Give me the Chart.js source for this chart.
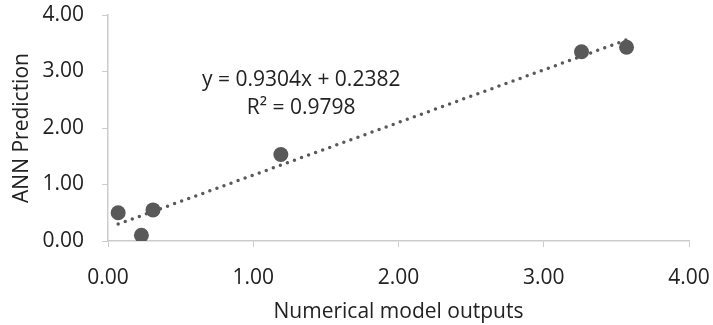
<!DOCTYPE html>
<html>
<head>
    <title>ANN vs Numerical model</title>
    <script src="https://cdn.jsdelivr.net/npm/chart.js"></script>
    <style>
        html, body { margin: 0; padding: 0; background: #fff; }
        #wrap { width: 713px; height: 325px; position: relative; }
    </style>
</head>
<body>
    <div id="wrap"><canvas id="chart"></canvas></div>

    <script>
        // values
        const numericalOut = [0.07, 0.23, 0.31, 1.19, 3.26, 3.57];
        const annPred = [0.50, 0.10, 0.55, 1.53, 3.35, 3.43];
        const trendX = [0.07, 3.57];
        const trendY = [0.30, 3.56];
        const axisTicks = [0, 1, 2, 3, 4];
        const eqLines = ['y = 0.9304x + 0.2382', 'R\u00b2 = 0.9798'];

        const grey = '#595959';
        const axisGrey = '#cccccc';
        const textCol = '#222222';
        const fontFam = "'Open Sans', 'Noto Sans', sans-serif";
        const fontSize = 21;

        const eqLabel = {
            id: 'eqLabel',
            afterDatasetsDraw(chart) {
                const ctx = chart.ctx;
                const xs = chart.scales.x, ys = chart.scales.y;
                ctx.save();
                ctx.font = fontSize + 'px ' + fontFam;
                ctx.fillStyle = textCol;
                ctx.textAlign = 'center';
                ctx.textBaseline = 'middle';
                ctx.fillText(eqLines[0], xs.getPixelForValue(1.33), ys.getPixelForValue(2.85));
                ctx.fillText(eqLines[1], xs.getPixelForValue(1.33), ys.getPixelForValue(2.35));
                ctx.restore();
            }
        };

        // fixed axis box size, no extra label overflow padding
        function fixBox(dim, size) {
            return s => {
                s[dim] = size;
                s.paddingTop = 0;
                s.paddingBottom = 0;
                s.paddingLeft = 0;
                s.paddingRight = 0;
            };
        }

        function axisCfg(title, fixSize, tickPad) {
            return {
                type: 'linear',
                min: axisTicks[0],
                max: axisTicks[axisTicks.length - 1],
                afterBuildTicks: s => { s.ticks = axisTicks.map(v => ({ value: v })); },
                afterFit: fixSize,
                grid: { display: true, drawOnChartArea: false, drawTicks: true, tickLength: 6, color: axisGrey, lineWidth: 1 },
                border: { display: true, color: axisGrey, width: 1.5 },
                ticks: {
                    padding: tickPad,
                    color: textCol,
                    font: { family: fontFam, size: fontSize },
                    callback: v => Number(v).toFixed(2)
                },
                title: {
                    display: true,
                    text: title,
                    color: textCol,
                    font: { family: fontFam, size: fontSize },
                    padding: { top: 9, bottom: 0 }
                }
            };
        }

        new Chart(document.getElementById('chart'), {
            type: 'scatter',
            data: {
                datasets: [
                    {
                        label: 'points',
                        data: numericalOut.map((x, i) => ({ x: x, y: annPred[i] })),
                        backgroundColor: grey,
                        borderWidth: 0,
                        pointRadius: 7.5,
                        order: 0
                    },
                    {
                        label: 'trend',
                        type: 'line',
                        data: trendX.map((x, i) => ({ x: x, y: trendY[i] })),
                        borderColor: grey,
                        borderWidth: 3.5,
                        borderDash: [0, 7.5],
                        borderCapStyle: 'round',
                        pointRadius: 0,
                        fill: false,
                        order: 1
                    }
                ]
            },
            options: {
                responsive: true,
                maintainAspectRatio: false,
                animation: false,
                layout: { padding: { left: 0, right: 24, top: 15, bottom: 0 } },
                plugins: { legend: { display: false }, tooltip: { enabled: false } },
                scales: {
                    x: axisCfg('Numerical model outputs', fixBox('height', 84), 18),
                    y: axisCfg('ANN Prediction', fixBox('width', 108), 18)
                }
            },
            plugins: [eqLabel]
        });
    </script>
</body>
</html>
